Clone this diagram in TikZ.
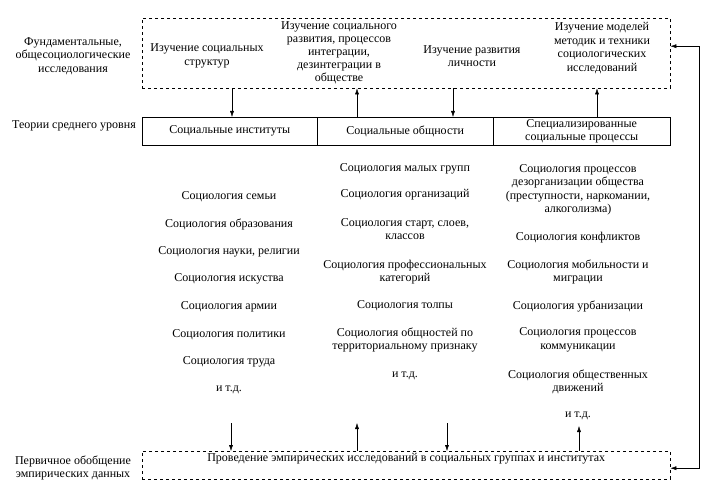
\documentclass[tikz,border=0pt]{standalone}
\usepackage{fontspec}
\setmainfont{Liberation Serif}
\usetikzlibrary{arrows.meta}

\begin{document}
\begin{tikzpicture}[x=1pt,y=-1pt,>={Latex[length=6pt,width=4pt]},
		every node/.style={font=\fontsize{12}{13.5}\selectfont,align=center,inner sep=0pt},
		txt/.style={yshift=-2pt},
		dbox/.style={draw,dashed,anchor=north west,minimum width=528pt},
		cell/.style={draw,anchor=north west,minimum height=28pt}]
		\useasboundingbox (0,0) rectangle (723,500);
		% boxes
		\node[dbox,minimum height=70pt] (fund) at (142,18) {};
		\node[cell,minimum width=175pt] (inst) at (142,117) {Социальные институты};
		\node[cell,minimum width=176pt] (obsh) at (317,117) {Социальные общности};
		\node[cell,minimum width=177pt] (proc) at (493,117) {Специализированные\\социальные процессы};
		\node[dbox,minimum height=28pt] (emp) at (142,451) {};
		\node[anchor=north] (empt) at ([yshift=-2pt]emp.north) {Проведение эмпирических исследований в социальных группах и институтах};
		% left labels
		\node[txt] (lfund) at (73,54) {Фундаментальные,\\общесоциологические\\исследования};
		\node[txt] (lmid) at (74,124) {Теории среднего уровня};
		\node[txt] (lemp) at (73,466) {Первичное обобщение\\эмпирических данных};
		% texts in the top box
		\node[txt] (f1) at (207,54) {Изучение социальных\\структур};
		\node[txt,font=\fontsize{12}{13}\selectfont] (f2) at (339,51) {Изучение социального\\развития, процессов\\интеграции,\\дезинтеграции в\\обществе};
		\node[txt] (f3) at (472,54) {Изучение развития\\личности};
		\node[txt] (f4) at (602,46) {Изучение моделей\\методик и техники\\социологических\\исследований};
		% columns
		\foreach \y/\t [count=\n] in {195/{Социология семьи},222/{Социология образования},250/{Социология науки, религии},277/{Социология искуства},305/{Социология армии},333/{Социология политики},360/{Социология труда},388/{и т.д.}}
		\node[txt] (ins\n) at (229,\y) {\t};
		\foreach \y/\t [count=\n] in {167/{Социология малых групп},193/{Социология организаций},227/{Социология старт, слоев,\\классов},270/{Социология профессиональных\\категорий},304/{Социология толпы},338/{Социология общностей по\\территориальному признаку},374/{и т.д.}}
		\node[txt] (obs\n) at (405,\y) {\t};
		\foreach \y/\t [count=\n] in {188/{Социология процессов\\дезорганизации общества\\(преступности, наркомании,\\алкоголизма)},236/{Социология конфликтов},270/{Социология мобильности и\\миграции},304/{Социология урбанизации},338/{Социология процессов\\коммуникации},380/{Социология общественных\\движений},414/{и т.д.}}
		\node[txt] (prc\n) at (578,\y) {\t};
		% arrows between levels
		\coordinate (c1) at (232,0);
		\coordinate (c2) at (357,0);
		\coordinate (c3) at (453,0);
		\coordinate (c4) at (597,0);
		\foreach \c/\d/\b in {c1/->/inst,c2/<-/obsh,c3/->/obsh,c4/<-/proc}
		\draw[\d] (\c |- fund.south) -- (\c |- \b.north);
		\coordinate (e1) at (231,423);
		\coordinate (e2) at (357,423);
		\coordinate (e3) at (447,423);
		\coordinate (e4) at (579,426);
		\foreach \c/\d in {e1/->,e2/<-,e3/->,e4/<-}
		\draw[\d] (\c) -- (\c |- emp.north);
		% feedback line
		\draw[<->] ([yshift=7pt]fund.east) -- ++(29,0) |- ([yshift=-3pt]emp.east);
\end{tikzpicture}
\end{document}
